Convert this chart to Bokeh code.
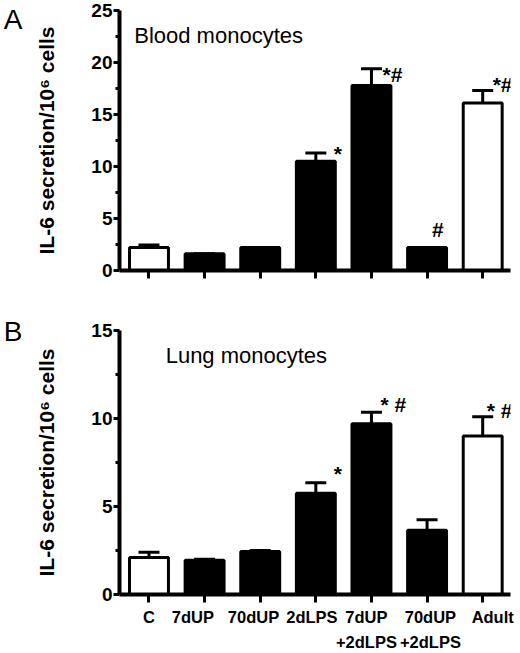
from bokeh.plotting import figure
from bokeh.layouts import column
from bokeh.models import (ColumnDataSource, FixedTicker, Whisker, TeeHead, Label,
                          Range1d, LinearAxis)
from bokeh.core.properties import value
from bokeh.embed import file_html
from bokeh.resources import INLINE

# ---------------- data ----------------
categories = ["C", "7dUP", "70dUP", "2dLPS", "7dUP\n+2dLPS", "70dUP\n+2dLPS", "Adult"]
bar_fill = ["white", "black", "black", "black", "black", "black", "white"]

blood_mean = [2.2, 1.6, 2.2, 10.5, 17.8, 2.2, 16.1]
blood_sem = [0.25, 0.0, 0.0, 0.8, 1.6, 0.0, 1.2]
blood_marks = ["", "", "", "*", "*#", "#", "*#"]

lung_mean = [2.1, 1.95, 2.45, 5.75, 9.7, 3.65, 9.0]
lung_sem = [0.3, 0.05, 0.05, 0.6, 0.65, 0.6, 1.1]
lung_marks = ["", "", "", "*", "* #", "", "* #"]

blood_ticks = [0, 5, 10, 15, 20, 25]
lung_ticks = [0, 5, 10, 15]

# ------------- styling -------------
# screen offsets (px) of the significance marks from the top of each error bar
blood_mark_dx = [0, 0, 0, 18, 11, 5, 10]
blood_mark_dy = [0, 0, 0, 1, 6, -18, -6]
lung_mark_dx = [0, 0, 0, 18, 9, 0, 4]
lung_mark_dy = [0, 0, 0, -9, -8, 0, -6]
# horizontal shift (in category units) of each category label from its tick
label_shift = [0.0, -0.21, -0.12, -0.07, -0.09, 0.06, 0.18]

FONT = "Liberation Sans"
YLABEL = "IL-6 secretion/10\u2076 cells"


def label_axis(ticks, texts, standoff):
    return LinearAxis(ticker=FixedTicker(ticks=ticks, minor_ticks=[]),
                      major_label_overrides={t: s for t, s in zip(ticks, texts)},
                      axis_line_color=None, major_tick_line_color=None,
                      minor_tick_line_color=None, major_label_standoff=standoff,
                      major_label_text_font=FONT, major_label_text_font_size="16.5px",
                      major_label_text_font_style="bold",
                      major_label_text_color="black")


def panel(mean, sem, marks, mdx, mdy, ticks, title, title_x, title_y, letter,
          letter_y, height, border_top, border_bottom, border_right, show_labels):
    xs = list(range(1, len(categories) + 1))
    upper = [m + s for m, s in zip(mean, sem)]
    src = ColumnDataSource(dict(x=xs, top=mean, upper=upper, fill=bar_fill,
                                marks=marks, dx=mdx, dy=mdy))
    p = figure(width=520, height=height, output_backend="svg", toolbar_location=None,
               x_range=Range1d(0.47, 7.5), y_range=Range1d(0, ticks[-1]),
               min_border_left=115, min_border_right=border_right,
               min_border_top=border_top, min_border_bottom=border_bottom)
    p.outline_line_color = None
    p.xgrid.visible = False
    p.ygrid.visible = False
    p.background_fill_color = "white"
    p.border_fill_color = "white"

    p.vbar(x="x", top="top", bottom=0, width=0.7, source=src, fill_color="fill",
           line_color="black", line_width=3)
    w = Whisker(source=src, base="x", lower="top", upper="upper",
                line_color="black", line_width=3,
                upper_head=TeeHead(size=21, line_color="black", line_width=3),
                lower_head=None)
    p.add_layout(w)
    p.text(x="x", y="upper", text="marks", x_offset="dx", y_offset="dy", source=src,
           text_font=value(FONT), text_font_size="21px", text_font_style="bold",
           text_baseline="alphabetic", text_align="left", text_color="black")

    # y axis
    minors = [(a + b) / 2 for a, b in zip(ticks[:-1], ticks[1:])]
    ya = p.yaxis[0]
    ya.ticker = FixedTicker(ticks=ticks, minor_ticks=minors)
    ya.axis_line_width = 4
    ya.major_tick_out = 6
    ya.major_tick_in = 0
    ya.major_tick_line_width = 3
    ya.minor_tick_out = 4
    ya.minor_tick_in = 0
    ya.minor_tick_line_width = 3
    ya.major_label_text_font = FONT
    ya.major_label_text_font_size = "19px"
    ya.major_label_text_font_style = "bold"
    ya.major_label_text_color = "black"
    ya.major_label_standoff = 1
    ya.axis_label = YLABEL
    ya.axis_label_text_font = FONT
    ya.axis_label_text_font_size = "21px"
    ya.axis_label_text_font_style = "bold"
    ya.axis_label_text_color = "black"
    ya.axis_label_standoff = 30

    # panel letter, carried by an outer axis on the left
    la = LinearAxis(ticker=FixedTicker(ticks=[letter_y], minor_ticks=[]),
                    major_label_overrides={letter_y: letter},
                    axis_line_color=None, major_tick_line_color=None,
                    minor_tick_line_color=None, major_label_standoff=4,
                    major_label_text_font=FONT, major_label_text_font_size="28px",
                    major_label_text_color="black")
    p.add_layout(la, "left")

    # x axis: tick marks
    xa = p.xaxis[0]
    xa.ticker = FixedTicker(ticks=xs, minor_ticks=[])
    xa.axis_line_width = 4
    xa.major_tick_out = 8
    xa.major_tick_in = 0
    xa.major_tick_line_width = 3
    xa.minor_tick_line_color = None
    xa.major_label_text_font_size = "0px"
    xa.major_label_standoff = 0

    if show_labels:
        lx = [x + s for x, s in zip(xs, label_shift)]
        first = [c.split("\n")[0] for c in categories]
        p.add_layout(label_axis(lx, first, -1), "below")
        two = [(x, c.split("\n")[1]) for x, c in zip(lx, categories) if "\n" in c]
        p.add_layout(label_axis([t[0] for t in two], [t[1] for t in two], -2), "below")

    p.add_layout(Label(x=title_x, y=title_y, text=title, text_font=FONT,
                       text_font_size="22px", text_color="black",
                       text_baseline="alphabetic"))
    return p


pA = panel(blood_mean, blood_sem, blood_marks, blood_mark_dx, blood_mark_dy,
           blood_ticks, "Blood monocytes", 0.735, 22.6, "A", 24.76,
           300, 10, 30, 7, False)
pB = panel(lung_mean, lung_sem, lung_marks, lung_mark_dx, lung_mark_dy,
           lung_ticks, "Lung monocytes", 1.3, 13.6, "B", 14.94,
           353, 30, 58, 10, True)

layout = column(pA, pB)
open("out.html", "w").write(file_html(layout, INLINE))
